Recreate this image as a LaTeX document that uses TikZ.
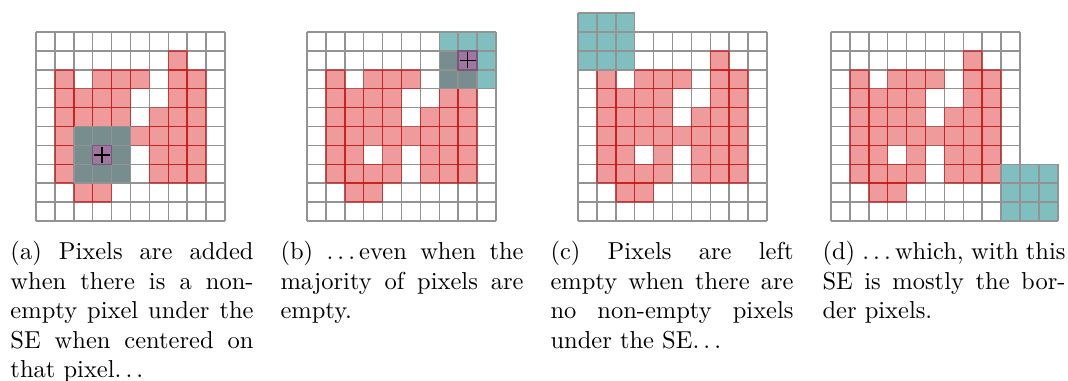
\documentclass[tikz,border=0pt]{standalone}
\usepackage{tikz}
\usetikzlibrary{positioning}

\definecolor{pixred}{RGB}{218,5,5}
\definecolor{sepurple}{RGB}{160,118,160}

% spaced dots, as in the classic text ellipsis
\newcommand{\sedots}{.\kern\fontdimen3\font.\kern\fontdimen3\font.\kern\fontdimen3\font}

% occupied pixels of the test image, as col/row (row 0 on top)
\newcommand{\pixlist}{7/1, 1/2, 3/2, 4/2, 5/2, 7/2, 8/2,
    1/3, 2/3, 3/3, 4/3, 7/3, 8/3,
    1/4, 2/4, 3/4, 4/4, 6/4, 7/4, 8/4,
    1/5, 2/5, 3/5, 4/5, 5/5, 6/5, 7/5, 8/5,
    1/6, 2/6, 4/6, 6/6, 7/6, 8/6,
    1/7, 2/7, 3/7, 4/7, 6/7, 7/7, 8/7,
    2/8, 3/8}

\begin{document}
\begin{tikzpicture}[
    % one unit = one pixel of the grid, rows counted downwards
    x={(7.714pt,0pt)},
    y={(0pt,-7.714pt)},
    gridline/.style={gray!85, line width=0.6pt},
    pixel/.style={fill=pixred, draw=pixred, opacity=0.4, line width=0.6pt},
    sepatch/.style={fill=teal, fill opacity=0.5},
    secenter/.style={fill=sepurple, draw=sepurple!75!black, line width=0.6pt},
    capbox/.style={text width=99.2pt, align=justify, inner sep=0pt, anchor=north west}
]
    \useasboundingbox (0,0) rectangle (56.508,20.106);

    % --- Grids with the image ---
    \foreach \sx in {1.905, 16.243, 30.582, 43.968} {
        \begin{scope}[shift={(\sx,1.693)}]
            \foreach \i in {0,...,10} {
                \draw[gridline] (\i,0) -- (\i,10);
                \draw[gridline] (0,\i) -- (10,\i);
            }
            \foreach \c/\r in \pixlist {
                \draw[pixel] (\c,\r) rectangle ++(1,1);
            }
        \end{scope}
    }

    % --- (a) SE centred on an empty pixel ---
    \begin{scope}[shift={(1.905,1.693)}]
        \fill[sepatch] (2,5) rectangle (5,8);
        \foreach \i in {0,...,3} {
            \draw[gridline] (2+\i,5) -- (2+\i,8);
            \draw[gridline] (2,5+\i) -- (5,5+\i);
        }
        \draw[secenter] (3,6) rectangle (4,7);
        \coordinate (ctrA) at (3.5,6.5);
        \draw[line width=0.6pt] ([xshift=-3.3pt]ctrA) -- ([xshift=3.3pt]ctrA);
        \draw[line width=0.6pt] ([yshift=-3.3pt]ctrA) -- ([yshift=3.3pt]ctrA);
    \end{scope}

    % --- (b) SE in the top right corner ---
    \begin{scope}[shift={(16.243,1.693)}]
        \fill[sepatch] (7,0) rectangle (10,3);
        \foreach \i in {0,...,3} {
            \draw[gridline] (7+\i,0) -- (7+\i,3);
            \draw[gridline] (7,\i) -- (10,\i);
        }
        \draw[secenter] (8,1) rectangle (9,2);
        \coordinate (ctrB) at (8.5,1.5);
        \draw[line width=0.6pt] ([xshift=-3.3pt]ctrB) -- ([xshift=3.3pt]ctrB);
        \draw[line width=0.6pt] ([yshift=-3.3pt]ctrB) -- ([yshift=3.3pt]ctrB);
    \end{scope}

    % --- (c) SE sticking out at the top ---
    \begin{scope}[shift={(30.582,1.693)}]
        \fill[sepatch] (0,-1) rectangle (3,2);
        \foreach \i in {0,...,3} {
            \draw[gridline] (\i,-1) -- (\i,2);
            \draw[gridline] (0,\i-1) -- (3,\i-1);
        }
    \end{scope}

    % --- (d) SE sticking out at the bottom right ---
    \begin{scope}[shift={(43.968,1.693)}]
        \fill[sepatch] (9,7) rectangle (12,10);
        \foreach \i in {0,...,3} {
            \draw[gridline] (9+\i,7) -- (9+\i,10);
            \draw[gridline] (9,7+\i) -- (12,7+\i);
        }
    \end{scope}

    % --- Captions ---
    \node[capbox] (capA) at (0.529,12.75)
        {(a) Pixels are added when there is a non-empty pixel under the SE when centered on that pixel\sedots};
    \node[capbox] (capB) at (14.815,12.75)
        {(b) \sedots even when the majority of pixels are empty.};
    \node[capbox] (capC) at (29.101,12.75)
        {(c) Pixels are left empty when there are no non-empty pixels under the SE\sedots};
    \node[capbox] (capD) at (43.492,12.75)
        {(d) \sedots which, with this SE is mostly the border pixels.};
\end{tikzpicture}
\end{document}
